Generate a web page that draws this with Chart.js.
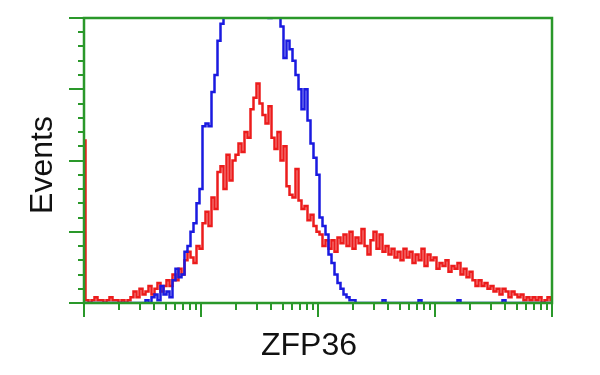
<!DOCTYPE html>
<html>
<head>
<meta charset="utf-8">
<script src="https://cdn.jsdelivr.net/npm/chart.js@4.4.1/dist/chart.umd.min.js"></script>
<style>
  html, body { margin: 0; padding: 0; background: #fff; }
  #wrap { width: 600px; height: 375px; position: relative; }
</style>
</head>
<body>
<div id="wrap"><canvas id="histo"></canvas></div>
<script>
// 157 channels spread over 4 log decades (1 .. 10^4)
const nBins = 157;
const channels = [];
for (let i = 0; i < nBins; i++) {
    channels.push(Math.pow(10, i * 4 / (nBins - 1)));
}

// events per channel, blue = control, red = ZFP36 stained
const blueEvents = [
    0, 0, 0, 0, 0, 0, 0, 0, 0, 0,
    0, 0, 0, 0, 0, 0, 0, 0, 0, 0,
    0, 1, 0, 2, 3, 1, 6, 3, 4, 2,
    8, 12, 9, 10, 18, 20, 25, 28, 35, 40,
    62, 63, 62, 74, 80, 92, 98, 104, 112, 118,
    122, 126, 128, 130, 127, 124, 125, 118, 114, 110,
    104, 101, 100, 102, 106, 103, 97, 86, 92, 89,
    85, 80, 75, 68, 75, 64, 56, 51, 45, 30,
    27, 24, 17, 14, 10, 7, 5, 3, 2, 1,
    1, 0, 0, 0, 0, 0, 0, 0, 0, 0,
    1, 0, 0, 0, 0, 0, 0, 0, 0, 0,
    0, 0, 1, 0, 0, 0, 0, 0, 0, 0,
    0, 0, 0, 0, 0, 1, 0, 0, 0, 0,
    0, 0, 0, 0, 0, 0, 0, 0, 0, 0,
    1, 0, 0, 0, 0, 0, 0, 0, 0, 0,
    0, 0, 0, 0, 0, 0, 0
];
const redEvents = [
    57, 1, 0, 1, 2, 1, 1, 0, 1, 2,
    1, 1, 0, 1, 0, 1, 2, 4, 2, 5,
    3, 4, 6, 3, 5, 7, 4, 6, 8, 6,
    10, 8, 12, 10, 15, 18, 16, 14, 20, 19,
    28, 32, 27, 37, 33, 46, 48, 40, 52, 43,
    50, 52, 56, 53, 60, 58, 68, 72, 77, 70,
    66, 63, 69, 58, 54, 60, 50, 55, 41, 38,
    37, 47, 36, 33, 34, 29, 31, 27, 25, 24,
    20, 22, 19, 22, 18, 23, 21, 24, 20, 25,
    19, 23, 21, 26, 20, 17, 22, 25, 19, 24,
    18, 20, 17, 19, 16, 18, 15, 19, 16, 18,
    14, 17, 15, 19, 13, 17, 15, 16, 12, 14,
    13, 15, 11, 13, 12, 14, 10, 12, 9, 11,
    8, 6, 8, 6, 7, 5, 6, 4, 5, 3,
    5, 4, 2, 4, 3, 2, 3, 1, 2, 1,
    2, 1, 2, 0, 1, 2, 1
];

const yMajor = [0, 25, 50, 75, 100];
const xMajor = [1, 10, 100, 1000, 10000];

const frameColor = '#2a982a';

const toPoints = vals => vals.map((v, i) => ({ x: channels[i], y: v }));

// frame, tick marks and axis titles
const framePlugin = {
    id: 'frame',
    afterDraw(chart) {
        const c = chart.ctx;
        const a = chart.chartArea;
        const xs = chart.scales.x;
        const ys = chart.scales.y;
        c.save();
        c.strokeStyle = frameColor;
        c.lineWidth = 2.5;
        c.strokeRect(a.left, a.top, a.right - a.left, a.bottom - a.top);

        c.lineWidth = 2;
        c.beginPath();
        // y ticks, every 5 events
        for (let v = 0; v <= 100; v += 5) {
            const py = Math.round(ys.getPixelForValue(v));
            const len = yMajor.includes(v) ? 15 : 6;
            c.moveTo(a.left, py);
            c.lineTo(a.left - len, py);
        }
        // x ticks, log decades
        for (let d = 0; d < 4; d++) {
            for (let m = 1; m <= 9; m++) {
                const px = Math.round(xs.getPixelForValue(m * Math.pow(10, d)));
                const len = m === 1 ? 14 : 7;
                c.moveTo(px, a.bottom);
                c.lineTo(px, a.bottom + len);
            }
        }
        const pe = Math.round(xs.getPixelForValue(xMajor[4]));
        c.moveTo(pe, a.bottom);
        c.lineTo(pe, a.bottom + 14);
        c.stroke();

        c.fillStyle = '#111';
        c.font = '32px "Liberation Sans", Arial, sans-serif';
        c.textAlign = 'center';
        c.textBaseline = 'alphabetic';
        c.fillText('ZFP36', 309, 355);
        c.translate(52, 165);
        c.rotate(-Math.PI / 2);
        c.fillText('Events', 0, 0);
        c.restore();
    }
};

new Chart(document.getElementById('histo'), {
    type: 'line',
    data: {
        datasets: [{
            label: 'control',
            data: toPoints(blueEvents),
            borderColor: '#1a1ae0',
            borderWidth: 2.5,
            pointRadius: 0,
            stepped: 'middle',
            fill: false
        }, {
            label: 'ZFP36',
            data: toPoints(redEvents),
            borderColor: '#ec1c1c',
            borderWidth: 2.5,
            pointRadius: 0,
            stepped: 'middle',
            fill: false
        }]
    },
    options: {
        responsive: true,
        maintainAspectRatio: false,
        animation: false,
        layout: { padding: { left: 84, right: 48, top: 18, bottom: 72 } },
        scales: {
            x: { type: 'logarithmic', min: 1, max: 10000, display: false },
            y: { min: 0, max: 100, display: false }
        },
        plugins: {
            legend: { display: false },
            tooltip: { enabled: false }
        }
    },
    plugins: [framePlugin]
});
</script>
</body>
</html>
